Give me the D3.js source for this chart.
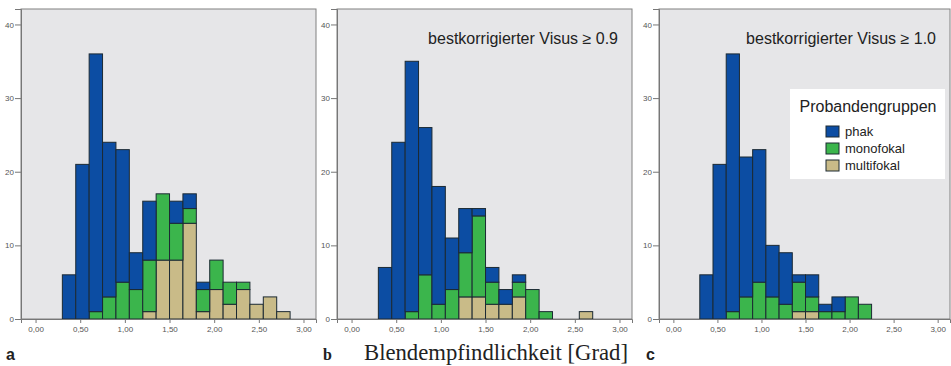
<!DOCTYPE html>
<html>
<head>
<meta charset="utf-8">
<script src="https://cdn.jsdelivr.net/npm/d3@7"></script>
<style>
  body { margin: 0; background: #fff; }
  svg { display: block; }
</style>
</head>
<body>
<svg id="chart" width="951" height="366"></svg>
<script>
// lower edge of every bin (Blendempfindlichkeit, Grad), bin width 0.15
const binStarts = [0.30, 0.45, 0.60, 0.75, 0.90, 1.05, 1.20, 1.35, 1.50, 1.65, 1.80, 1.95, 2.10, 2.25, 2.40, 2.55, 2.70];
const binWidth = 0.15;

// panel a : all
const phakA  = [6, 21, 35, 21, 18, 5, 8, 0, 3, 2, 1, 0, 0, 0, 0, 0, 0];
const monoA  = [0, 0, 1, 3, 5, 4, 7, 9, 5, 2, 3, 4, 3, 1, 0, 0, 0];
const multiA = [0, 0, 0, 0, 0, 0, 1, 8, 8, 13, 1, 4, 2, 4, 2, 3, 1];

// panel b : Visus >= 0.9
const phakB  = [7, 24, 34, 20, 16, 7, 6, 1, 2, 2, 1, 0, 0, 0, 0, 0, 0];
const monoB  = [0, 0, 1, 6, 2, 4, 6, 11, 3, 0, 2, 4, 1, 0, 0, 0, 0];
const multiB = [0, 0, 0, 0, 0, 0, 3, 3, 2, 2, 3, 0, 0, 0, 0, 1, 0];

// panel c : Visus >= 1.0
const phakC  = [6, 21, 35, 19, 18, 7, 7, 1, 3, 1, 2, 0, 0, 0, 0, 0, 0];
const monoC  = [0, 0, 1, 3, 5, 3, 2, 4, 2, 1, 1, 3, 2, 0, 0, 0, 0];
const multiC = [0, 0, 0, 0, 0, 0, 0, 1, 1, 0, 0, 0, 0, 0, 0, 0, 0];

const groups = ["multi", "mono", "phak"];   // stacking order, bottom first
const groupNames = {phak: "phak", mono: "monofokal", multi: "multifokal"};
const legendOrder = ["phak", "mono", "multi"];

const xTicks = [0, 0.5, 1, 1.5, 2, 2.5, 3];
const xTickLabels = ["0,00", "0,50", "1,00", "1,50", "2,00", "2,50", "3,00"];
const yTicks = [0, 10, 20, 30, 40];

const colors = {phak: "#0c4da3", mono: "#3bb54c", multi: "#c9bb88"};

const panels = [
	{letter: "a", left: 21,  right: 316, phak: phakA, mono: monoA, multi: multiA, note: null},
	{letter: "b", left: 337, right: 632, phak: phakB, mono: monoB, multi: multiB, note: "bestkorrigierter Visus \u2265 0.9"},
	{letter: "c", left: 659, right: 950, phak: phakC, mono: monoC, multi: multiC, note: "bestkorrigierter Visus \u2265 1.0", legend: true}
];

const plotTop = 9, plotBottom = 319;
const svg = d3.select("#chart");
svg.append("rect").attr("width", 951).attr("height", 366).attr("fill", "#fff");

const y = d3.scaleLinear().domain([0, 42.1]).range([plotBottom, plotTop]);

panels.forEach(p => {
	const x = d3.scaleLinear().domain([-0.163, 3.14]).range([p.left, p.right]);
	const g = svg.append("g").attr("class", "panel");

	g.append("rect")
		.attr("x", p.left).attr("y", plotTop)
		.attr("width", p.right - p.left).attr("height", plotBottom - plotTop)
		.attr("fill", "#e6e6e8")
		.attr("stroke", "#808080")
		.attr("stroke-width", 1);

	const rows = binStarts.map((b, i) => ({x0: b, phak: p.phak[i], mono: p.mono[i], multi: p.multi[i]}));
	const stacked = d3.stack().keys(groups)(rows);

	stacked.forEach(layer => {
		g.append("g")
			.selectAll("rect")
			.data(layer.filter(d => d[1] > d[0]))
			.join("rect")
			.attr("x", d => x(d.data.x0))
			.attr("width", d => x(d.data.x0 + binWidth) - x(d.data.x0))
			.attr("y", d => y(d[1]))
			.attr("height", d => y(d[0]) - y(d[1]))
			.attr("fill", colors[layer.key])
			.attr("stroke", "#1c2a33")
			.attr("stroke-width", 1);
	});

	const yAxis = g.append("g")
		.attr("transform", "translate(" + p.left + ",0)")
		.call(d3.axisLeft(y).tickValues(yTicks).tickSize(6).tickPadding(1));
	const xAxis = g.append("g")
		.attr("transform", "translate(0," + plotBottom + ")")
		.call(d3.axisBottom(x).tickValues(xTicks).tickSize(4).tickPadding(3)
			.tickFormat((d, i) => xTickLabels[i]));

	[yAxis, xAxis].forEach(ax => {
		ax.select(".domain").attr("stroke", "#777");
		ax.selectAll(".tick line").attr("stroke", "#777");
		ax.selectAll("text")
			.attr("fill", "#555")
			.style("font-family", "Liberation Sans, Arial, sans-serif")
			.style("font-size", "8px");
	});

	if (p.note) {
		g.append("text")
			.attr("x", p.right - 14).attr("y", 44)
			.attr("text-anchor", "end")
			.style("font-family", "Liberation Sans, Arial, sans-serif")
			.style("font-size", "16px")
			.attr("fill", "#222")
			.text(p.note);
	}

	if (p.legend) {
		const lg = g.append("g");
		lg.append("rect")
			.attr("x", 790).attr("y", 89).attr("width", 155).attr("height", 90)
			.attr("fill", "#fff");
		lg.append("text")
			.attr("x", 868).attr("y", 112)
			.attr("text-anchor", "middle")
			.style("font-family", "Liberation Sans, Arial, sans-serif")
			.style("font-size", "16px")
			.attr("fill", "#222")
			.text("Probandengruppen");
		legendOrder.forEach((k, i) => {
			lg.append("rect")
				.attr("x", 826).attr("y", 126 + i * 17)
				.attr("width", 13).attr("height", 11)
				.attr("fill", colors[k])
				.attr("stroke", "#1c2a33");
			lg.append("text")
				.attr("x", 845).attr("y", 136 + i * 17)
				.style("font-family", "Liberation Sans, Arial, sans-serif")
				.style("font-size", "13px")
				.attr("fill", "#222")
				.text(groupNames[k]);
		});
	}
});

// panel letters and the shared axis title
svg.append("text").attr("x", 6).attr("y", 360)
	.style("font-family", "Liberation Sans, Arial, sans-serif")
	.style("font-size", "16px").style("font-weight", "bold")
	.attr("fill", "#222").text("a");
svg.append("text").attr("x", 323).attr("y", 360)
	.style("font-family", "Liberation Serif, Times New Roman, serif")
	.style("font-size", "16px").style("font-weight", "bold")
	.attr("fill", "#222").text("b");
svg.append("text").attr("x", 646).attr("y", 360)
	.style("font-family", "Liberation Sans, Arial, sans-serif")
	.style("font-size", "16px").style("font-weight", "bold")
	.attr("fill", "#222").text("c");
svg.append("text").attr("x", 364).attr("y", 360)
	.style("font-family", "Liberation Serif, Times New Roman, serif")
	.style("font-size", "22.7px")
	.attr("fill", "#222").text("Blendempfindlichkeit [Grad]");
</script>
</body>
</html>
